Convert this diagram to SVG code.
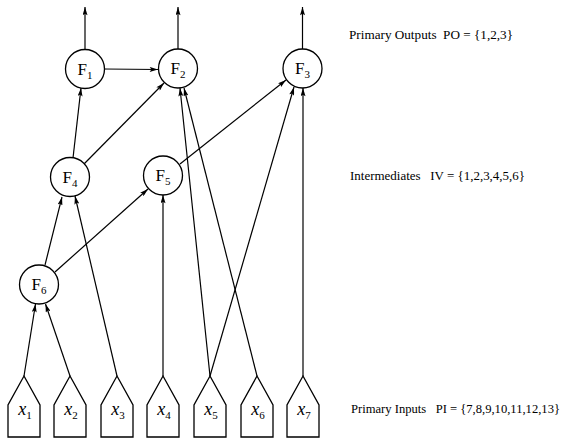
<svg xmlns="http://www.w3.org/2000/svg" width="566" height="441" viewBox="0 0 566 441">
<style>
.n{fill:#fff;stroke:#000;stroke-width:1.3}
.e{stroke:#000;stroke-width:1.2;fill:none;marker-end:url(#ah)}
.lbl{font-family:"Liberation Serif",serif;font-size:17px;fill:#000}
.in{font-family:"Liberation Serif",serif;font-size:18px;font-style:italic;fill:#000}
.sub{font-size:11px;font-style:normal}
.side{font-family:"Liberation Serif",serif;font-size:13px;fill:#000}
</style>
<defs>
<marker id="ah" viewBox="0 0 10 6" refX="10" refY="3" markerWidth="9" markerHeight="5" orient="auto" markerUnits="userSpaceOnUse">
<path d="M0,0 L10,3 L0,6 L2,3 z" fill="#000"/>
</marker>
</defs>
<g id="connectors">
<line class="e" x1="85" y1="50" x2="85" y2="7"/>
<line class="e" x1="178" y1="49" x2="178" y2="7"/>
<line class="e" x1="302.5" y1="49" x2="302.5" y2="7"/>
<line class="e" x1="104" y1="69" x2="158" y2="69.5"/>
<line class="e" x1="73" y1="158" x2="81" y2="88"/>
<line class="e" x1="84" y1="164" x2="164" y2="83"/>
<line class="e" x1="180" y1="164" x2="286" y2="80"/>
<line class="e" x1="45" y1="265" x2="62" y2="197"/>
<line class="e" x1="55" y1="272" x2="148" y2="189"/>
<line class="e" x1="24" y1="376" x2="35.5" y2="304"/>
<line class="e" x1="70" y1="376" x2="45.5" y2="304"/>
<line class="e" x1="117" y1="376" x2="75" y2="196"/>
<line class="e" x1="163" y1="376" x2="163" y2="195"/>
<line class="e" x1="210" y1="376" x2="180" y2="88"/>
<line class="e" x1="210" y1="376" x2="294" y2="87"/>
<line class="e" x1="257" y1="376" x2="184" y2="88"/>
<line class="e" x1="303" y1="376" x2="303" y2="88"/>
</g>
<g id="F1"><circle class="n" cx="85" cy="69" r="19.5"/><text class="lbl" x="85" y="74.5" text-anchor="middle">F<tspan class="sub" dy="4">1</tspan></text></g>
<g id="F2"><circle class="n" cx="178" cy="68.5" r="19.5"/><text class="lbl" x="178" y="74" text-anchor="middle">F<tspan class="sub" dy="4">2</tspan></text></g>
<g id="F3"><circle class="n" cx="302.5" cy="68.5" r="19.5"/><text class="lbl" x="302.5" y="74" text-anchor="middle">F<tspan class="sub" dy="4">3</tspan></text></g>
<g id="F4"><circle class="n" cx="70" cy="177" r="19.5"/><text class="lbl" x="70" y="182.5" text-anchor="middle">F<tspan class="sub" dy="4">4</tspan></text></g>
<g id="F5"><circle class="n" cx="163" cy="175.5" r="19.5"/><text class="lbl" x="163" y="181" text-anchor="middle">F<tspan class="sub" dy="4">5</tspan></text></g>
<g id="F6"><circle class="n" cx="39" cy="284.5" r="19.5"/><text class="lbl" x="39" y="290" text-anchor="middle">F<tspan class="sub" dy="4">6</tspan></text></g>
<g id="x1"><path class="n" d="M24,376 L40,405 L40,437 L8,437 L8,405 Z"/><text class="in" x="25" y="415" text-anchor="middle">x<tspan class="sub" dy="4">1</tspan></text></g>
<g id="x2"><path class="n" d="M70,376 L86,405 L86,437 L54,437 L54,405 Z"/><text class="in" x="71" y="415" text-anchor="middle">x<tspan class="sub" dy="4">2</tspan></text></g>
<g id="x3"><path class="n" d="M117,376 L133,405 L133,437 L101,437 L101,405 Z"/><text class="in" x="118" y="415" text-anchor="middle">x<tspan class="sub" dy="4">3</tspan></text></g>
<g id="x4"><path class="n" d="M163,376 L179,405 L179,437 L147,437 L147,405 Z"/><text class="in" x="164" y="415" text-anchor="middle">x<tspan class="sub" dy="4">4</tspan></text></g>
<g id="x5"><path class="n" d="M210,376 L226,405 L226,437 L194,437 L194,405 Z"/><text class="in" x="211" y="415" text-anchor="middle">x<tspan class="sub" dy="4">5</tspan></text></g>
<g id="x6"><path class="n" d="M257,376 L273,405 L273,437 L241,437 L241,405 Z"/><text class="in" x="258" y="415" text-anchor="middle">x<tspan class="sub" dy="4">6</tspan></text></g>
<g id="x7"><path class="n" d="M303,376 L319,405 L319,437 L287,437 L287,405 Z"/><text class="in" x="304" y="415" text-anchor="middle">x<tspan class="sub" dy="4">7</tspan></text></g>
<g id="labels">
<text class="side" x="349" y="39" textLength="164" lengthAdjust="spacingAndGlyphs" xml:space="preserve">Primary Outputs  PO = {1,2,3}</text>
<text class="side" x="350" y="180" textLength="175" lengthAdjust="spacingAndGlyphs" xml:space="preserve">Intermediates   IV = {1,2,3,4,5,6}</text>
<text class="side" x="351" y="413" textLength="209" lengthAdjust="spacingAndGlyphs" xml:space="preserve">Primary Inputs   PI = {7,8,9,10,11,12,13}</text>
</g>
</svg>
